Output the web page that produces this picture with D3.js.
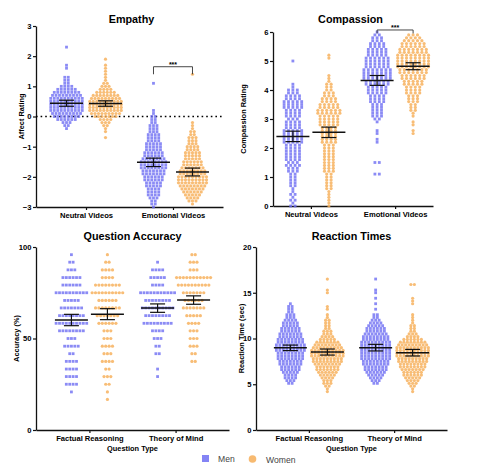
<!DOCTYPE html>
<html><head><meta charset="utf-8">
<script src="https://cdn.jsdelivr.net/npm/d3@7"></script>
<style>body{margin:0;background:#fff} svg{display:block} text{font-family:"Liberation Sans",Arial,Helvetica,sans-serif}</style>
</head><body><svg id="c" width="480" height="472"></svg>
<script>
// ---------------- DATA ----------------
const genders = ["Men", "Women"];
const videoCategories = ["Neutral Videos", "Emotional Videos"];
const questionCategories = ["Factual Reasoning", "Theory of Mind"];
const panelTitles = ["Empathy", "Compassion", "Question Accuracy", "Reaction Times"];
const yAxisTitles = ["Affect Rating", "Compassion Rating", "Accuracy (%)", "Reaction Time (sec)"];
const xAxisTitle = "Question Type";
const empathyTicks = [-3, -2, -1, 0, 1, 2, 3];
const compassionTicks = [0, 1, 2, 3, 4, 5, 6];
const accuracyTicks = [0, 50, 100];
const reactionTicks = [0, 5, 10, 15, 20];
const sigLabel = "***";

// individual participants as [value, number of participants with that value]
const empathyNeutralMen = [[2.3,1],[1.7,1],[1.6,1],[1.3,2],[1.2,2],[1.1,2],[1.0,4],[0.9,6],[0.8,8],[0.7,9],[0.6,10],[0.5,10],[0.4,10],[0.3,10],[0.2,10],[0.1,9],[0.0,8],[-0.1,6],[-0.2,3],[-0.3,2],[-0.4,1]];
const empathyNeutralWomen = [[1.9,1],[1.7,1],[1.6,1],[1.5,1],[1.4,1],[1.3,1],[1.2,1],[1.1,2],[1.0,3],[0.9,4],[0.8,6],[0.7,8],[0.6,9],[0.5,10],[0.4,10],[0.3,10],[0.2,10],[0.1,9],[0.0,7],[-0.1,4],[-0.2,3],[-0.3,2],[-0.4,1],[-0.5,1],[-0.7,1]];
const empathyEmotionalMen = [[1.1,1],[0.2,1],[0.1,1],[0.0,2],[-0.1,2],[-0.2,2],[-0.3,3],[-0.4,3],[-0.5,3],[-0.6,4],[-0.7,4],[-0.8,4],[-0.9,5],[-1.0,5],[-1.1,5],[-1.2,6],[-1.3,6],[-1.4,7],[-1.5,8],[-1.6,8],[-1.7,8],[-1.8,7],[-1.9,7],[-2.0,6],[-2.1,6],[-2.2,5],[-2.3,5],[-2.4,4],[-2.5,4],[-2.6,4],[-2.7,3],[-2.8,2],[-2.9,2],[-3.0,1]];
const empathyEmotionalWomen = [[1.4,1],[-0.2,1],[-0.3,1],[-0.4,1],[-0.5,2],[-0.6,2],[-0.7,3],[-0.8,3],[-0.9,3],[-1.0,4],[-1.1,4],[-1.2,5],[-1.3,5],[-1.4,5],[-1.5,6],[-1.6,6],[-1.7,7],[-1.8,8],[-1.9,8],[-2.0,9],[-2.1,9],[-2.2,9],[-2.3,8],[-2.4,7],[-2.5,6],[-2.6,5],[-2.7,4],[-2.8,3],[-2.9,1]];
const empathyMeans = [[0.44, 0.43], [-1.52, -1.84]];
const empathyCI = [[0.10, 0.09], [0.14, 0.13]];

const compassionNeutralMen = [[5.0,1],[4.2,1],[4.1,1],[4.0,3],[3.9,3],[3.8,4],[3.7,4],[3.6,5],[3.5,5],[3.4,5],[3.3,4],[3.2,4],[3.1,4],[3.0,3],[2.9,4],[2.8,4],[2.7,4],[2.6,5],[2.5,5],[2.4,5],[2.3,5],[2.2,5],[2.1,4],[2.0,4],[1.9,4],[1.8,4],[1.7,4],[1.6,4],[1.5,3],[1.4,4],[1.3,3],[1.2,3],[1.1,2],[1.0,2],[0.9,2],[0.8,2],[0.7,2],[0.6,1],[0.5,1],[0.4,2],[0.3,1],[0.2,2],[0.1,1],[0.0,2]];
const compassionNeutralWomen = [[5.2,1],[5.1,1],[4.5,1],[4.4,1],[4.3,1],[4.2,2],[4.1,2],[4.0,2],[3.9,3],[3.8,3],[3.7,4],[3.6,4],[3.5,5],[3.4,5],[3.3,6],[3.2,6],[3.1,5],[3.0,5],[2.9,5],[2.8,5],[2.7,4],[2.6,4],[2.5,4],[2.4,4],[2.3,4],[2.2,4],[2.1,3],[2.0,3],[1.9,3],[1.8,3],[1.7,3],[1.6,3],[1.5,3],[1.4,3],[1.3,3],[1.2,3],[1.1,2],[1.0,2],[0.9,2],[0.8,2],[0.7,2],[0.6,2],[0.5,1],[0.4,1],[0.3,1],[0.2,1],[0.1,1],[0.0,1]];
const compassionEmotionalMen = [[6.0,1],[5.9,2],[5.8,3],[5.7,3],[5.6,4],[5.5,4],[5.4,5],[5.3,5],[5.2,5],[5.1,6],[5.0,6],[4.9,6],[4.8,6],[4.7,7],[4.6,7],[4.5,7],[4.4,7],[4.3,6],[4.2,6],[4.1,5],[4.0,5],[3.9,5],[3.8,4],[3.7,4],[3.6,4],[3.5,3],[3.4,3],[3.3,3],[3.2,3],[3.1,3],[3.0,2],[2.9,1],[2.6,1],[2.5,1],[2.3,1],[2.2,1],[1.5,2],[1.1,2]];
const compassionEmotionalWomen = [[5.9,3],[5.8,4],[5.7,5],[5.6,6],[5.5,6],[5.4,7],[5.3,7],[5.2,8],[5.1,8],[5.0,8],[4.9,8],[4.8,8],[4.7,7],[4.6,7],[4.5,6],[4.4,6],[4.3,5],[4.2,5],[4.1,4],[4.0,4],[3.9,4],[3.8,3],[3.7,3],[3.6,3],[3.5,2],[3.4,2],[3.3,2],[3.2,1],[3.1,1],[2.9,1],[2.8,1],[2.6,1],[2.5,1]];
const compassionMeans = [[2.40, 2.54], [4.33, 4.82]];
const compassionCI = [[0.18, 0.18], [0.17, 0.12]];

const accuracyFactualMen = [[95.8,1],[91.7,2],[87.5,3],[83.3,6],[79.2,6],[75,10],[70.8,5],[66.7,7],[62.5,8],[58.3,10],[54.2,8],[50,3],[45.8,5],[41.7,2],[37.5,4],[33.3,4],[29.2,4],[25,4],[20.8,1]];
const accuracyFactualWomen = [[95.8,1],[91.7,2],[87.5,4],[83.3,4],[79.2,8],[75,10],[70.8,6],[66.7,8],[62.5,7],[58.3,6],[54.2,3],[50,3],[45.8,4],[41.7,3],[37.5,4],[33.3,2],[29.2,3],[25,2],[20.8,1],[16.7,1]];
const accuracyMindMen = [[91.7,1],[87.5,4],[83.3,5],[79.2,4],[75,11],[70.8,8],[66.7,10],[62.5,8],[58.3,9],[54.2,4],[50,3],[45.8,2],[41.7,2],[33.3,1],[29.2,1]];
const accuracyMindWomen = [[95.8,2],[91.7,3],[87.5,3],[83.3,11],[79.2,10],[75,7],[70.8,6],[66.7,7],[62.5,5],[58.3,4],[54.2,3],[50,3],[45.8,3],[41.7,2],[37.5,2]];
const accuracyMeans = [[60.1, 63.3], [66.6, 71.0]];
const accuracyCI = [[3.1, 3.0], [2.3, 2.3]];

const reactionFactualMen = [[13.8,1],[13.5,2],[13.2,2],[12.9,2],[12.6,3],[12.3,3],[12.0,4],[11.7,5],[11.4,5],[11.1,6],[10.8,6],[10.5,7],[10.2,7],[9.9,8],[9.6,8],[9.3,9],[9.0,9],[8.7,9],[8.4,8],[8.1,8],[7.8,8],[7.5,7],[7.2,7],[6.9,6],[6.6,6],[6.3,5],[6.0,4],[5.7,4],[5.4,3],[5.1,2]];
const reactionFactualWomen = [[16.5,1],[15.3,1],[15.0,1],[13.5,1],[13.2,1],[12.6,1],[12.3,1],[12.0,2],[11.7,2],[11.4,2],[11.1,2],[10.8,3],[10.5,3],[10.2,4],[9.9,5],[9.6,7],[9.3,8],[9.0,9],[8.7,10],[8.4,10],[8.1,10],[7.8,9],[7.5,9],[7.2,8],[6.9,7],[6.6,7],[6.3,6],[6.0,5],[5.7,4],[5.4,3],[5.1,3],[4.8,2],[4.5,1],[4.2,1]];
const reactionMindMen = [[16.5,1],[15.3,1],[15.0,1],[14.4,1],[13.8,1],[13.2,1],[12.6,2],[12.3,2],[12.0,3],[11.7,4],[11.4,5],[11.1,6],[10.8,6],[10.5,7],[10.2,8],[9.9,8],[9.6,9],[9.3,9],[9.0,9],[8.7,9],[8.4,9],[8.1,9],[7.8,9],[7.5,8],[7.2,8],[6.9,7],[6.6,7],[6.3,6],[6.0,5],[5.7,4],[5.4,3],[5.1,2]];
const reactionMindWomen = [[15.9,2],[14.4,1],[14.1,1],[13.8,1],[12.6,1],[12.3,1],[12.0,1],[11.7,1],[11.4,2],[11.1,2],[10.8,2],[10.5,3],[10.2,4],[9.9,6],[9.6,8],[9.3,9],[9.0,10],[8.7,10],[8.4,10],[8.1,10],[7.8,9],[7.5,9],[7.2,8],[6.9,8],[6.6,7],[6.3,6],[6.0,6],[5.7,5],[5.4,4],[5.1,3],[4.8,2],[4.5,1],[4.2,1]];
const reactionMeans = [[8.98, 8.52], [9.00, 8.45]];
const reactionCI = [[0.30, 0.33], [0.36, 0.36]];

// ---------------- LAYOUT / STYLE ----------------
const menColor = "#6e6ef3", womenColor = "#f6ae58";
const svg = d3.select("#c");
const FONT = '"Liberation Sans",Arial,Helvetica,sans-serif';

const panels = [
  { title: panelTitles[0], yTitle: yAxisTitles[0], cats: videoCategories, ticks: empathyTicks,
    domain: [-3, 3], xr: [36, 223], yr: [207, 26], pad: 0.575, off: 19.5, gap: 3.5,
    groups: [[empathyNeutralMen, empathyNeutralWomen], [empathyEmotionalMen, empathyEmotionalWomen]],
    means: empathyMeans, ci: empathyCI, zero: true, bracket: { cat: 1, top: 1.65, leg: 1.4 },
    titleX: 131.5, titleY: 22.5, yTitleX: 23.5 },
  { title: panelTitles[1], yTitle: yAxisTitles[1], cats: videoCategories, ticks: compassionTicks,
    domain: [0, 6], xr: [273, 433], yr: [206, 32], pad: 0.45, off: 18, gap: 4.4,
    groups: [[compassionNeutralMen, compassionNeutralWomen], [compassionEmotionalMen, compassionEmotionalWomen]],
    means: compassionMeans, ci: compassionCI, zero: false, bracket: { cat: 1, top: 6.07, leg: 5.95 },
    titleX: 350.5, titleY: 22.5, yTitleX: 245.5 },
  { title: panelTitles[2], yTitle: yAxisTitles[2], cats: questionCategories, ticks: accuracyTicks,
    domain: [0, 100], xr: [36, 229], yr: [430, 247], pad: 0.62, off: 18, gap: 3.4,
    groups: [[accuracyFactualMen, accuracyFactualWomen], [accuracyMindMen, accuracyMindWomen]],
    means: accuracyMeans, ci: accuracyCI, zero: false, xTitle: true,
    titleX: 132.5, titleY: 239.5, yTitleX: 19 },
  { title: panelTitles[3], yTitle: yAxisTitles[3], cats: questionCategories, ticks: reactionTicks,
    domain: [0, 20], xr: [256, 447], yr: [430, 247], pad: 0.62, off: 18.5, gap: 3.5,
    groups: [[reactionFactualMen, reactionFactualWomen], [reactionMindMen, reactionMindWomen]],
    means: reactionMeans, ci: reactionCI, zero: false, xTitle: true,
    titleX: 351.5, titleY: 239.5, yTitleX: 243.5 }
];

// each value forms one horizontal row of points, centred on the group position
function rows(pairs, y, gap) {
  const pts = [];
  pairs.forEach(([v, n]) => {
    for (let i = 0; i < n; i++) pts.push({ v, y: y(v), x: (i - (n - 1) / 2) * gap });
  });
  return pts;
}

panels.forEach(P => {
  const g = svg.append("g");
  const y = d3.scaleLinear().domain(P.domain).range(P.yr);
  const x = d3.scalePoint().domain(P.cats).range(P.xr).padding(P.pad);
  const xg = d3.scalePoint().domain(genders).range([-P.off, P.off]);

  g.append("text").attr("x", P.titleX).attr("y", P.titleY)
    .attr("text-anchor", "middle").attr("font-weight", "bold").attr("font-size", 10.8)
    .text(P.title);

  const ya = g.append("g").attr("transform", `translate(${P.xr[0]},0)`)
    .call(d3.axisLeft(y).tickValues(P.ticks).tickFormat(d3.format("d"))
      .tickSize(3).tickSizeOuter(0).tickPadding(1.5));
  ya.select(".domain").attr("stroke", "#111").attr("stroke-width", 1.3);
  ya.selectAll(".tick line").attr("stroke", "#111").attr("stroke-width", 1.2);
  ya.selectAll(".tick text").attr("font-family", FONT).attr("font-weight", "bold")
    .attr("font-size", 7.6).attr("fill", "#000");

  g.append("text").attr("transform", `translate(${P.yTitleX},${(P.yr[0] + P.yr[1]) / 2}) rotate(-90)`)
    .attr("text-anchor", "middle").attr("font-weight", "bold").attr("font-size", 7.4)
    .text(P.yTitle);

  const xa = g.append("g").attr("transform", `translate(0,${P.yr[0]})`)
    .call(d3.axisBottom(x).tickSize(3).tickSizeOuter(0).tickPadding(2.5));
  xa.select(".domain").attr("stroke", "#111").attr("stroke-width", 1.3);
  xa.selectAll(".tick line").attr("stroke", "#111").attr("stroke-width", 1.2);
  xa.selectAll(".tick text").attr("font-family", FONT).attr("font-weight", "bold")
    .attr("font-size", 7.6).attr("fill", "#000");

  if (P.xTitle) {
    g.append("text").attr("x", P.titleX).attr("y", P.yr[0] + 20.5)
      .attr("text-anchor", "middle").attr("font-weight", "bold").attr("font-size", 7.4)
      .text(xAxisTitle);
  }

  if (P.zero) {
    g.append("line").attr("x1", P.xr[0]).attr("x2", P.xr[1]).attr("y1", y(0)).attr("y2", y(0))
      .attr("stroke", "#000").attr("stroke-width", 1.6).attr("stroke-dasharray", "1.6,3");
  }

  P.cats.forEach((cat, ci) => {
    genders.forEach((gen, gi) => {
      const cx = x(cat) + xg(gen);
      const pts = rows(P.groups[ci][gi], y, P.gap);
      const col = gi === 0 ? menColor : womenColor;
      const s = 2.8;
      if (gi === 0) {
        g.append("g").selectAll("rect").data(pts).join("rect")
          .attr("x", d => cx + d.x - s / 2).attr("y", d => d.y - s / 2)
          .attr("width", s).attr("height", s).attr("fill", col).attr("fill-opacity", 0.8);
      } else {
        g.append("g").selectAll("circle").data(pts).join("circle")
          .attr("cx", d => cx + d.x).attr("cy", d => d.y).attr("r", s / 2 + 0.2)
          .attr("fill", col).attr("fill-opacity", 0.82);
      }
      const m = P.means[ci][gi], e = P.ci[ci][gi];
      const eg = g.append("g").attr("stroke", "#111");
      eg.append("line").attr("x1", cx - 16.5).attr("x2", cx + 16.5).attr("y1", y(m)).attr("y2", y(m)).attr("stroke-width", 1.5);
      eg.append("line").attr("x1", cx).attr("x2", cx).attr("y1", y(m - e)).attr("y2", y(m + e)).attr("stroke-width", 1.2);
      [m - e, m + e].forEach(v => eg.append("line").attr("x1", cx - 7.5).attr("x2", cx + 7.5)
        .attr("y1", y(v)).attr("y2", y(v)).attr("stroke-width", 1.2));
    });
  });

  if (P.bracket) {
    const b = P.bracket, c = P.cats[b.cat];
    const x1 = x(c) + xg(genders[0]), x2 = x(c) + xg(genders[1]);
    g.append("path").attr("d", `M${x1},${y(b.leg)}V${y(b.top)}H${x2}V${y(b.leg)}`)
      .attr("fill", "none").attr("stroke", "#333").attr("stroke-width", 0.9);
    g.append("text").attr("x", (x1 + x2) / 2).attr("y", y(b.top) + 0.5)
      .attr("text-anchor", "middle").attr("font-size", 7).attr("font-weight", "bold").text(sigLabel);
  }
});

svg.append("rect").attr("x", 202).attr("y", 455).attr("width", 7).attr("height", 7)
  .attr("fill", menColor).attr("fill-opacity", 0.85);
svg.append("text").attr("x", 218).attr("y", 462).attr("font-size", 8.6).attr("fill", "#444").text(genders[0]);
svg.append("circle").attr("cx", 252.5).attr("cy", 459).attr("r", 3.8)
  .attr("fill", womenColor).attr("fill-opacity", 0.85);
svg.append("text").attr("x", 266).attr("y", 462.5).attr("font-size", 8.6).attr("fill", "#444").text(genders[1]);
</script></body></html>
